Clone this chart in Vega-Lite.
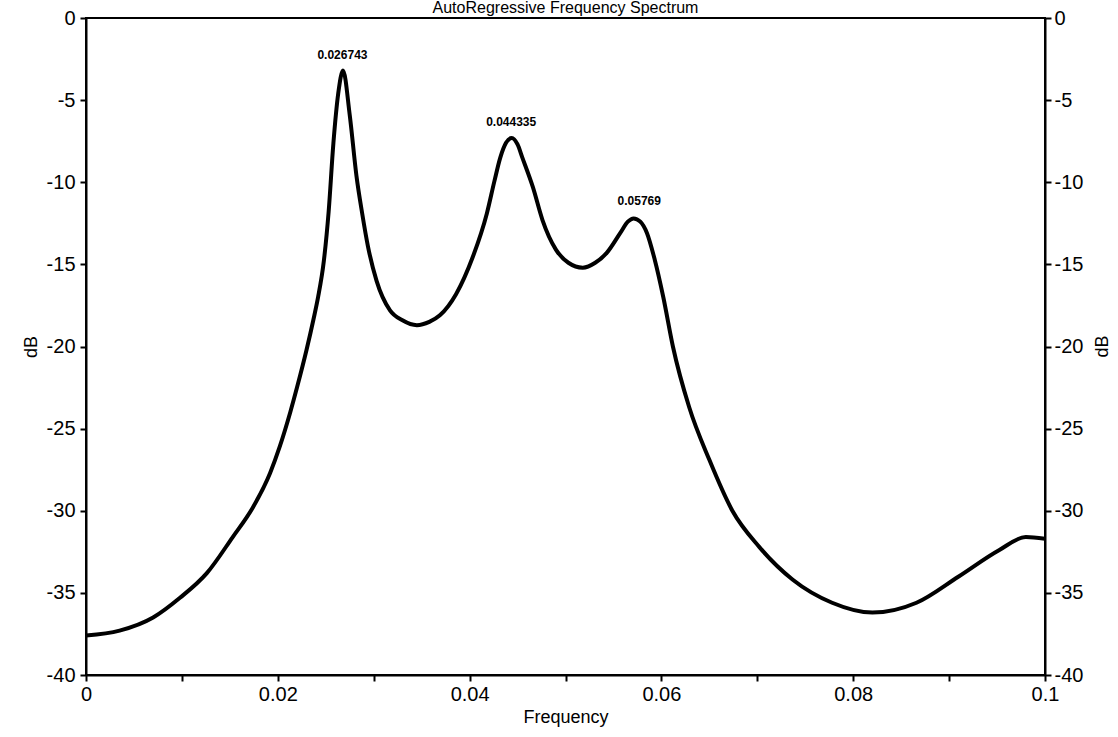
{
  "$schema": "https://vega.github.io/schema/vega-lite/v6.json",
  "autosize": {"type": "none"},
  "width": 959,
  "height": 657,
  "padding": {"left": 86, "top": 18, "right": 73, "bottom": 62},
  "background": "white",
  "title": {
    "text": "AutoRegressive Frequency Spectrum",
    "font": "Liberation Sans",
    "fontSize": 16,
    "fontWeight": "normal",
    "color": "black",
    "anchor": "middle",
    "frame": "group",
    "baseline": "bottom",
    "offset": 0,
    "dy": 24
  },
  "config": {
    "view": {"stroke": "black", "strokeWidth": 2},
    "axis": {
      "labelFont": "Liberation Sans",
      "labelFontSize": 20,
      "labelColor": "black",
      "titleFont": "Liberation Sans",
      "titleFontSize": 18,
      "titleFontWeight": "normal",
      "titleColor": "black",
      "domainColor": "black",
      "domainWidth": 2,
      "tickColor": "black",
      "tickWidth": 2,
      "tickSize": 6,
      "grid": false
    }
  },
  "datasets": {
    "spectrum": [
      {"f": 0.0, "db": -37.6},
      {"f": 0.0035, "db": -37.3},
      {"f": 0.007, "db": -36.5},
      {"f": 0.0098, "db": -35.3},
      {"f": 0.0126, "db": -33.8},
      {"f": 0.0153, "db": -31.6},
      {"f": 0.0174, "db": -29.8},
      {"f": 0.0192, "db": -27.7},
      {"f": 0.0202, "db": -26.1},
      {"f": 0.0213, "db": -24.0},
      {"f": 0.022, "db": -22.5},
      {"f": 0.023, "db": -20.2},
      {"f": 0.0237, "db": -18.4},
      {"f": 0.0242, "db": -17.0},
      {"f": 0.0248, "db": -14.8},
      {"f": 0.0253, "db": -11.8},
      {"f": 0.0258, "db": -7.6},
      {"f": 0.0263, "db": -4.6},
      {"f": 0.0268, "db": -3.2},
      {"f": 0.0275, "db": -5.9},
      {"f": 0.0282, "db": -9.6},
      {"f": 0.0288, "db": -11.9},
      {"f": 0.0294, "db": -13.9},
      {"f": 0.0303, "db": -16.0},
      {"f": 0.0317, "db": -17.8},
      {"f": 0.033, "db": -18.4},
      {"f": 0.0345, "db": -18.7},
      {"f": 0.0358, "db": -18.5},
      {"f": 0.0369, "db": -18.1},
      {"f": 0.0386, "db": -16.8},
      {"f": 0.0403, "db": -14.6},
      {"f": 0.0418, "db": -11.9},
      {"f": 0.0426, "db": -9.9},
      {"f": 0.0432, "db": -8.5},
      {"f": 0.0438, "db": -7.6},
      {"f": 0.0444, "db": -7.3},
      {"f": 0.045, "db": -7.7},
      {"f": 0.0455, "db": -8.5},
      {"f": 0.0466, "db": -10.3},
      {"f": 0.0476, "db": -12.3},
      {"f": 0.049, "db": -14.1},
      {"f": 0.0503, "db": -14.9},
      {"f": 0.0518, "db": -15.2},
      {"f": 0.0531, "db": -14.9},
      {"f": 0.0543, "db": -14.3},
      {"f": 0.0557, "db": -13.1},
      {"f": 0.0565, "db": -12.4},
      {"f": 0.0571, "db": -12.2},
      {"f": 0.0578, "db": -12.4},
      {"f": 0.0585, "db": -13.1},
      {"f": 0.0593, "db": -14.7},
      {"f": 0.0602, "db": -17.0},
      {"f": 0.0612, "db": -20.0},
      {"f": 0.0629, "db": -23.7},
      {"f": 0.065, "db": -26.9},
      {"f": 0.0674, "db": -30.0},
      {"f": 0.0702, "db": -32.2},
      {"f": 0.0737, "db": -34.2},
      {"f": 0.0778, "db": -35.6},
      {"f": 0.082, "db": -36.2},
      {"f": 0.0866, "db": -35.6},
      {"f": 0.091, "db": -34.0},
      {"f": 0.0952, "db": -32.4},
      {"f": 0.098, "db": -31.6},
      {"f": 0.1, "db": -31.7}
    ],
    "peaks": [
      {"f": 0.026743, "db": -3.2, "label": "0.026743"},
      {"f": 0.044335, "db": -7.3, "label": "0.044335"},
      {"f": 0.05769, "db": -12.1, "label": "0.05769"}
    ]
  },
  "resolve": {"axis": {"y": "independent"}},
  "layer": [
    {
      "data": {"name": "spectrum"},
      "mark": {"type": "line", "color": "black", "strokeWidth": 4, "interpolate": "monotone", "clip": true},
      "encoding": {
        "x": {
          "field": "f", "type": "quantitative",
          "scale": {"domain": [0, 0.1], "nice": false, "zero": false},
          "axis": {
            "title": "Frequency",
            "values": [0, 0.01, 0.02, 0.03, 0.04, 0.05, 0.06, 0.07, 0.08, 0.09, 0.1],
            "labelExpr": "round(datum.value * 100) % 2 == 0 ? format(datum.value, '~g') : ''",
            "labelPadding": 3,
            "titlePadding": 4,
            "labelFlush": false,
            "labelOverlap": false
          }
        },
        "y": {
          "field": "db", "type": "quantitative",
          "scale": {"domain": [-40, 0], "nice": false, "zero": false},
          "axis": {
            "title": "dB",
            "orient": "left",
            "values": [0, -5, -10, -15, -20, -25, -30, -35, -40],
            "labelExpr": "'' + datum.value",
            "labelPadding": 5,
            "titlePadding": 6,
            "labelFlush": false,
            "labelOverlap": false
          }
        }
      }
    },
    {
      "data": {"name": "peaks"},
      "mark": {"type": "text", "font": "Liberation Sans", "fontSize": 12, "fontWeight": "bold", "color": "black", "dy": -16, "baseline": "middle", "align": "center"},
      "encoding": {
        "x": {"field": "f", "type": "quantitative"},
        "y": {
          "field": "db", "type": "quantitative",
          "axis": {
            "title": "dB",
            "orient": "right",
            "titleAngle": 270,
            "titleX": 57,
            "titleY": 328,
            "titleAlign": "center",
            "titleBaseline": "middle",
            "values": [0, -5, -10, -15, -20, -25, -30, -35, -40],
            "labelExpr": "'' + datum.value",
            "labelPadding": 3,
            "labelFlush": false,
            "labelOverlap": false
          }
        },
        "text": {"field": "label"}
      }
    }
  ]
}
